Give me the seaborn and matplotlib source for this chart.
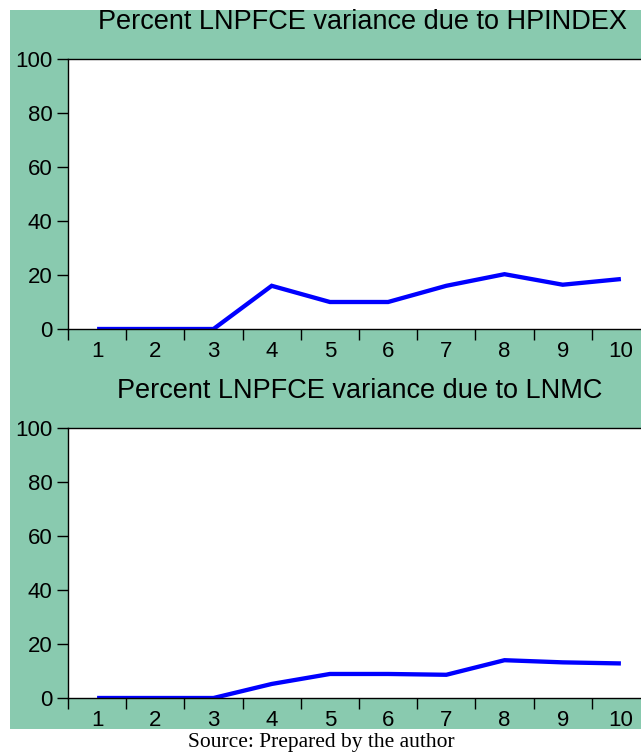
import matplotlib
matplotlib.use("Agg")
import matplotlib.pyplot as plt
from matplotlib.patches import Rectangle
from matplotlib.ticker import FixedLocator
import seaborn as sns
import pandas as pd

# Variance decomposition of LNPFCE, periods 1-10
periods = [1, 2, 3, 4, 5, 6, 7, 8, 9, 10]
hpindex_share = [0.0, 0.0, 0.0, 16.0, 10.0, 10.0, 16.0, 20.3, 16.4, 18.5]
lnmc_share = [0.0, 0.0, 0.0, 5.2, 8.9, 8.9, 8.6, 14.0, 13.2, 12.8]
titles = ["Percent LNPFCE variance due to HPINDEX",
          "Percent LNPFCE variance due to LNMC"]
y_ticks = [0, 20, 40, 60, 80, 100]
source_note = "Source: Prepared by the author"

sns.set_theme(style="white")
plt.rcParams["font.family"] = ["Liberation Sans", "DejaVu Sans"]

W, H = 641, 756
fig = plt.figure(figsize=(W / 100, H / 100), dpi=100)
fig.patch.set_facecolor("white")

green = "#89CAAF"
fig.patches.append(Rectangle((10 / W, 1 - 729 / H), 1 - 10 / W, (729 - 10) / H,
                             transform=fig.transFigure, facecolor=green,
                             edgecolor="none", zorder=-5))


def panel(top_px, bottom_px, values, title, title_y_px, title_x_px):
    ax = fig.add_axes([68 / W, 1 - bottom_px / H, 582 / W, (bottom_px - top_px) / H])
    ax.set_zorder(2)
    ax.set_facecolor("white")
    df = pd.DataFrame({"period": periods, "share": values})
    sns.lineplot(data=df, x="period", y="share", ax=ax, color="#0000FF",
                 linewidth=3.1, solid_joinstyle="miter", solid_capstyle="butt")
    ax.set_xlim(0.5, 10.5)
    ax.set_ylim(0, 100)
    ax.set_xlabel("")
    ax.set_ylabel("")
    ax.set_xticks(periods)
    ax.set_xticklabels([str(p) for p in periods])
    ax.xaxis.set_minor_locator(FixedLocator([p - 0.5 for p in periods] + [10.5]))
    ax.set_yticks(y_ticks)
    ax.tick_params(axis="x", which="major", length=0, pad=9, labelsize=16,
                   colors="black")
    ax.tick_params(axis="x", which="minor", length=8, width=1, direction="out",
                   color="black", bottom=True)
    ax.tick_params(axis="y", length=8, width=1, direction="out", pad=3,
                   labelsize=16, colors="black", left=True)
    for side in ["left", "bottom", "top", "right"]:
        ax.spines[side].set_visible(True)
        ax.spines[side].set_color("black")
        ax.spines[side].set_linewidth(1.0)
    fig.text(title_x_px / W, 1 - title_y_px / H, title, ha="center",
             va="center", fontsize=19.5, color="black")
    return ax


panel(59, 329, hpindex_share, titles[0], 22, 363)
panel(428, 698, lnmc_share, titles[1], 391, 360)

fig.text(321 / W, 1 - 742 / H, source_note, ha="center", va="center",
         fontsize=15.5, family=["Liberation Serif", "DejaVu Serif"], color="black")

fig.savefig("out.png", dpi=100, facecolor="white")
